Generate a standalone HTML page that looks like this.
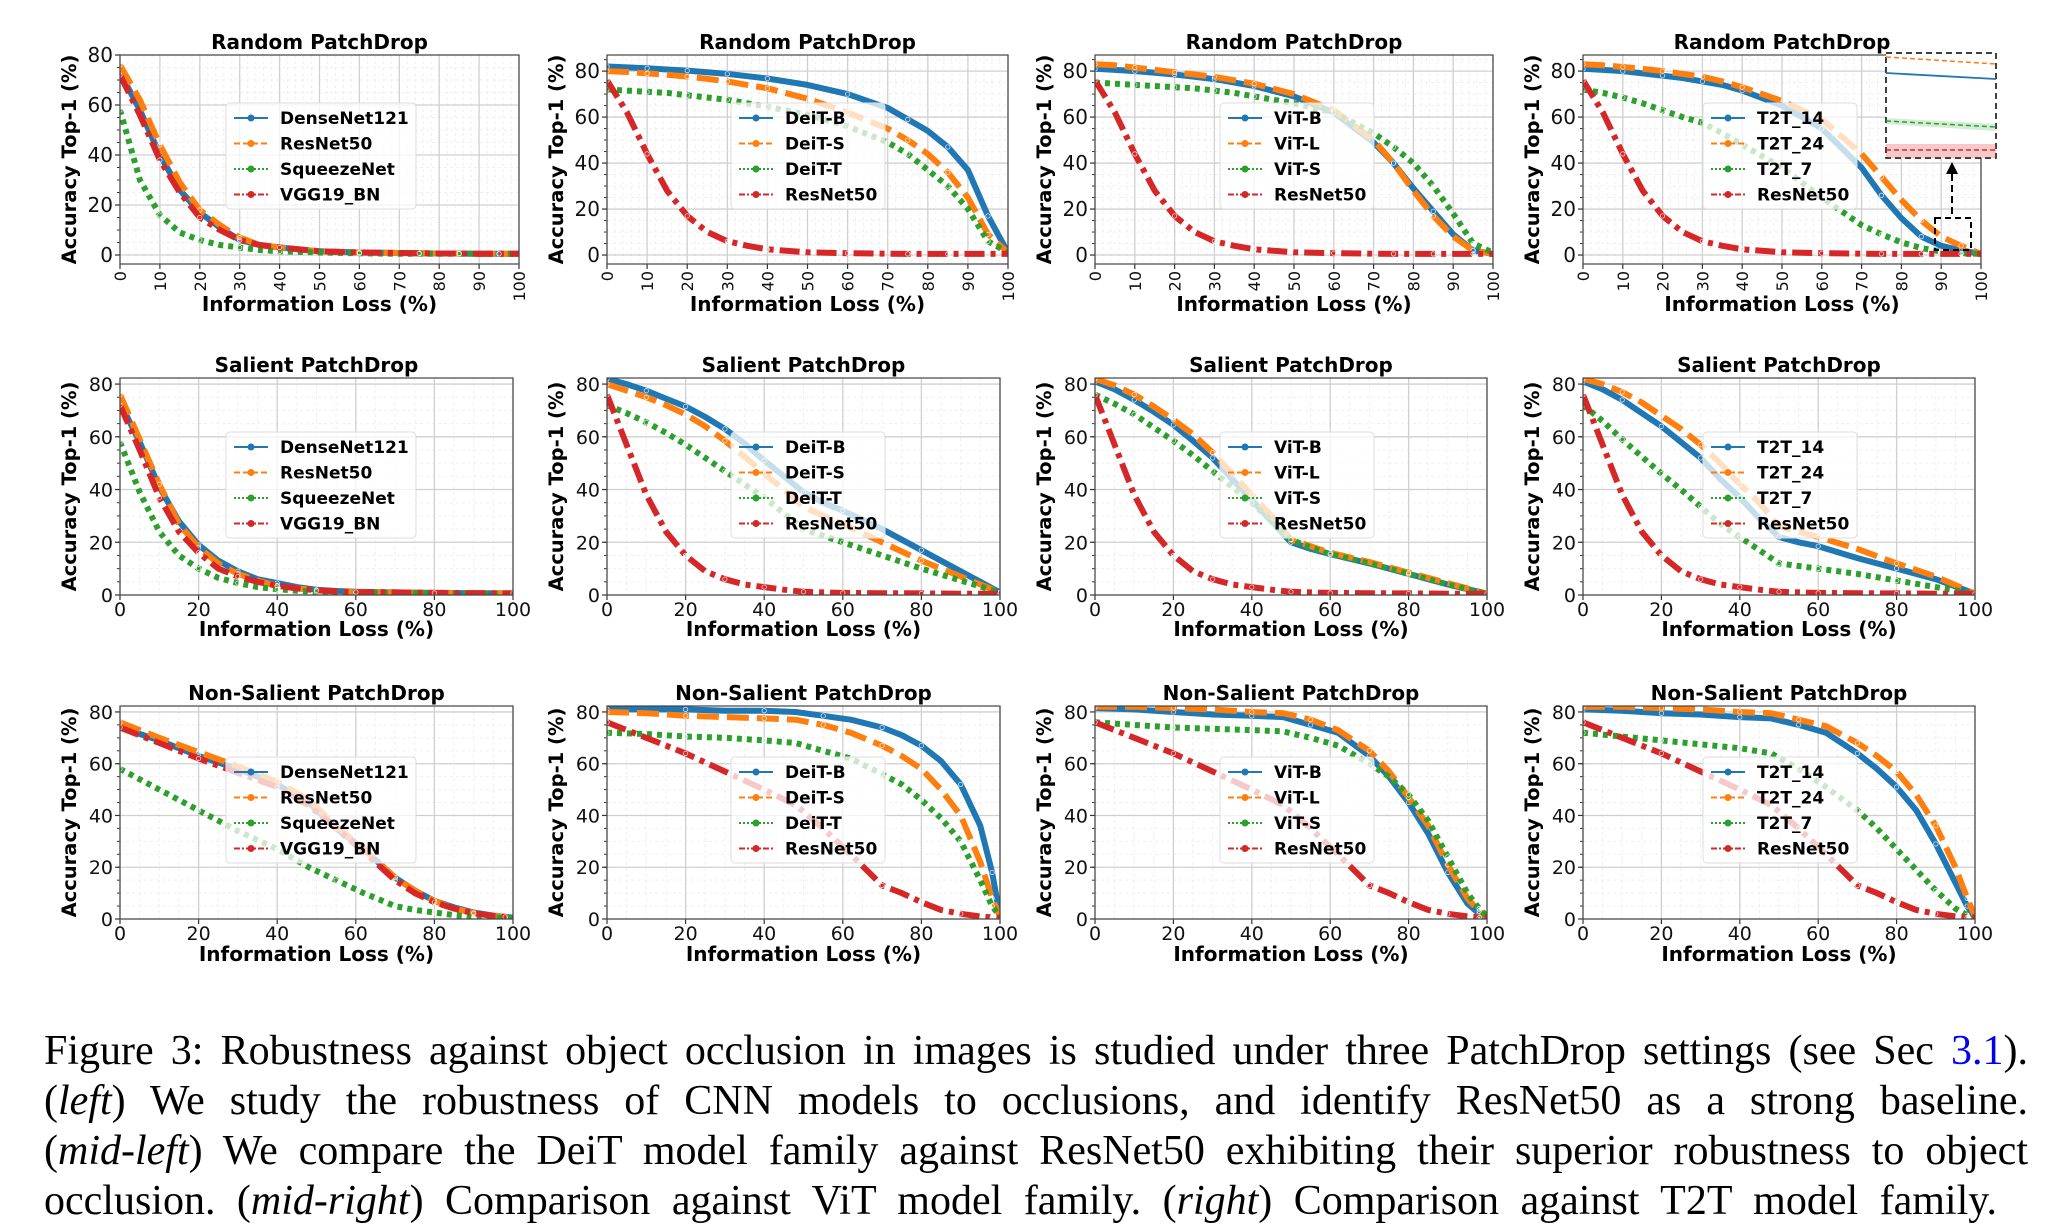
<!DOCTYPE html>
<html><head><meta charset="utf-8">
<style>
body{margin:0;background:#fff;width:2068px;height:1231px;overflow:hidden;position:relative;font-family:"DejaVu Sans","Liberation Sans",sans-serif}
svg{position:absolute;left:0;top:0}
.cap{position:absolute;left:44px;font-family:"Liberation Serif",serif;font-size:42px;color:#000;text-align:justify;text-align-last:justify;white-space:nowrap;line-height:50px}
.cap i{font-style:italic}
.lnk{color:#0000ee}
</style></head><body>
<svg id="fig" width="2068" height="1000" viewBox="0 0 2068 1000"></svg>
<div class="cap" style="top:1026px;width:1984px">Figure 3: Robustness against object occlusion in images is studied under three PatchDrop settings (see Sec <span class="lnk">3.1</span>).</div>
<div class="cap" style="top:1076px;width:1984px">(<i>left</i>) We study the robustness of CNN models to occlusions, and identify ResNet50 as a strong baseline.</div>
<div class="cap" style="top:1126px;width:1984px">(<i>mid-left</i>) We compare the DeiT model family against ResNet50 exhibiting their superior robustness to object</div>
<div class="cap" style="top:1176px;width:1953px">occlusion. (<i>mid-right</i>) Comparison against ViT model family. (<i>right</i>) Comparison against T2T model family.</div>
<script>
// ---- data ----
const randX=[0,5,10,15,20,25,30,35,40,50,60,70,75,80,85,90,95,100];
const salX=[0,5,10,15,20,25,30,35,40,45,50,55,60,70,80,90,100];
const nonX=[0,10,20,30,40,48,55,62,70,75,80,85,90,95,98,100];
const rndDense=[73,58,40,26,17,11,6,4,3,1.5,1,0.8,0.7,0.6,0.6,0.5,0.5,0.5];
const rndRes=[76,62,44,29,18,12,7,4,3,1.5,1,0.8,0.7,0.6,0.6,0.5,0.5,0.5];
const rndSqueeze=[58,30,16,9,6,4,3,2,1.5,1,0.7,0.5,0.5,0.5,0.5,0.5,0.5,0.5];
const rndVgg=[72,56,38,25,15,10,6,4,3,1.5,1,0.8,0.7,0.6,0.6,0.5,0.5,0.5];
const rndDeitB=[82,81.6,81.2,80.7,80.2,79.5,78.8,77.8,76.8,74,70,64,59,54,47,37,17,1];
const rndDeitS=[80,79.6,79,78.4,77.6,76.6,75.5,74,72.5,68,62,55,50,44,36,25,9,1];
const rndDeitT=[72,71.5,71,70.5,69.5,68.5,67.5,66,64.5,61,56,49,44,37,30,20,6,1];
const rndRes2=[76,62,44,28,17,10,6,4,2.5,1.2,0.8,0.6,0.5,0.5,0.5,0.5,0.5,0.5];
const rndVitB=[81,80.5,80,79.3,78.5,77.5,76.5,75,73.5,69,62,49,40,29,19,9,2,0.5];
const rndVitL=[83,82.5,81.5,80.5,79.5,78.5,77.5,76,74.5,70,63,50,40,28,17,8,2,0.5];
const rndVitS=[75,74.5,74,73.5,73,72.5,71.5,70.5,69,66,62,53,47,40,30,18,5,1];
const rndT14=[81,80.5,80,79,78,77,75.5,74,71.5,65,55,38,26,16,8,4,2,0.5];
const rndT24=[83,82.5,81.8,81,80,78.8,77.5,75.5,73,67,59,44,34,24,15,8,4,0.5];
const rndT7=[72,70.5,68.5,66,63,60,57.5,53,48,38,25,13,9,5.5,3,1.5,0.8,0.5];
const salDense=[73,58,41,28,19,13,9,6,4.5,3,2,1.5,1.2,1,0.8,0.7,0.6];
const salRes=[76,59,42,27,18,12,8,5.5,3.5,2.5,1.8,1.3,1.1,0.9,0.8,0.7,0.6];
const salSqueeze=[58,39,24,15,10,6.5,4.5,3,2.2,1.6,1.2,1,0.9,0.8,0.7,0.6,0.5];
const salVgg=[72,55,37,24,16,10,7,5,3.5,2.5,1.8,1.4,1.1,1,0.8,0.7,0.6];
const salDeitB=[82,80,77.5,74.5,71.5,67.5,63,57.5,51,45,39,35,32,25,17,9,1];
const salDeitS=[80,77.5,75,72,68.5,64,58.5,52.5,46,40,33.5,30,27,20,13,7,1];
const salDeitT=[72,69,65.5,61.5,57,52,47,42,37,31,25,22.5,20,15,10,5.5,1];
const salRes2=[76,57,38,24,15,9,6,4,3,2,1.2,1,0.8,0.7,0.6,0.5,0.5];
const salVitB=[81,78,74,69.5,64.5,58.5,52,44,36,28,20,17.5,15.5,12,8,4,0.5];
const salVitL=[82,79.5,76,71.5,66.5,61,54,46,38,30,21,18.5,16,12.5,8.5,4.5,0.5];
const salVitS=[76,72.5,68.5,63.5,58.5,53,47,41,35,28,21,18,15.5,12,8,4,0.5];
const salT14=[81,78,74,69,64,58,52,44,37,29,22,20,18.5,14,10,6,0.5];
const salT24=[82,80,77,73,68,63,57,50,42,35,26,24,22,17.5,12,7,0.5];
const salT7=[72,66,59,52.5,46,40,33.5,27,22,17,12,11,10,8,5.5,3,0.5];
const nonDense=[74,69,63,58,52,45,35,27,16,11,7,4.5,2.5,1.3,0.8,0.5];
const nonRes=[76,70,64.5,59,53,46,36,27,16,11,7,4,2.3,1.2,0.8,0.5];
const nonSqueeze=[58,50,42,34,27,20,15,10,5,3.5,2.5,1.5,0.8,0.5,0.4,0.3];
const nonVgg=[74,68,62,56.5,51,44,35,26,15,10,6.5,4,2.2,1.2,0.8,0.5];
const nonDeitB=[81,81,81,80.5,80.5,80,78.5,77,74,71,67,61,52,36,18,1];
const nonDeitS=[80,79.5,78.5,78,77.5,77,75,72,67,63,58,50,40,22,8,1];
const nonDeitT=[72,71.5,70.5,70,69,68,65,62,56,52,46,39,30,15,5,1];
const nonRes2=[76,70,64,57,50,44,35,25,13,10,6.5,3.5,2,1,0.6,0.5];
const nonVitB=[81.5,81,80,79,78.5,78,75,72,63,55,45,33,18,6,2,0.5];
const nonVitL=[82,82,81.5,81,80,79.5,77,73,65,57,47,36,21,8,3,0.5];
const nonVitS=[76,75,74,73.5,73,72.5,70,67,60,55,48,38,24,10,4,1];
const nonT14=[81,80.5,79.5,79,78,77.5,75,72,64,58,51,42,29,14,5,0.5];
const nonT24=[82,82,81.5,81,80,79.5,77,74.5,68,63,57,48,36,20,8,1];
const nonT7=[72,70.5,69,67.5,66,64,58,51,42,35,27,19,11,4,1.5,0.5];
const cnnNames=["DenseNet121","ResNet50","SqueezeNet","VGG19_BN"];
const deitNames=["DeiT-B","DeiT-S","DeiT-T","ResNet50"];
const vitNames=["ViT-B","ViT-L","ViT-S","ResNet50"];
const t2tNames=["T2T_14","T2T_24","T2T_7","ResNet50"];
const yTicks=[0,20,40,60,80];
const xTicksRow1=[0,10,20,30,40,50,60,70,80,90,100];
const xTicksRows23=[0,20,40,60,80,100];

// ---- rendering ----
const NS="http://www.w3.org/2000/svg";
const svg=document.getElementById('fig');
const COLORS=['#1f77b4','#ff7f0e','#2ca02c','#d62728'];
const DASH=['none','22 8','5 5','20 6 5 6'];
function mk(tag,attrs,parent){const e=document.createElementNS(NS,tag);for(const k in attrs)e.setAttribute(k,attrs[k]);(parent||svg).appendChild(e);return e;}
let clipId=0;
function panel(c){
  const g=mk('g',{});
  
  
  const sx=v=>c.x0+v/100*(c.x1-c.x0);
  const sy=v=>c.yb-(v-c.ymin)/(c.ymax-c.ymin)*(c.yb-c.yt);
  const tfs=c.rot?20:19;
  for(let v=0;v<=100;v+=c.minorX){mk('line',{x1:sx(v),x2:sx(v),y1:c.yt,y2:c.yb,stroke:'#efefef','stroke-width':1,'stroke-dasharray':'3 3'},g);}
  for(let v=0;v<=c.ymax;v+=5){mk('line',{x1:c.x0,x2:c.x1,y1:sy(v),y2:sy(v),stroke:'#efefef','stroke-width':1,'stroke-dasharray':'3 3'},g);
    mk('line',{x1:c.x0-3,x2:c.x0,y1:sy(v),y2:sy(v),stroke:'#333','stroke-width':1},g);}
  c.xticks.forEach(v=>{mk('line',{x1:sx(v),x2:sx(v),y1:c.yt,y2:c.yb,stroke:'#d0d0d0','stroke-width':1.3},g);
    mk('line',{x1:sx(v),x2:sx(v),y1:c.yb,y2:c.yb+5,stroke:'#333','stroke-width':1.2},g);
    const t=mk('text',{'font-size':c.rot?16:tfs,fill:'#111'},g);
    if(c.rot){t.setAttribute('transform',`rotate(-90 ${sx(v)} ${c.yb+7})`);t.setAttribute('x',sx(v));t.setAttribute('y',c.yb+7+6);t.setAttribute('text-anchor','end');}
    else{t.setAttribute('x',sx(v));t.setAttribute('y',c.yb+21);t.setAttribute('text-anchor','middle');}
    
    
    t.textContent=v;});
  yTicks.forEach(v=>{mk('line',{x1:c.x0,x2:c.x1,y1:sy(v),y2:sy(v),stroke:'#d0d0d0','stroke-width':1.3},g);
    mk('line',{x1:c.x0-5,x2:c.x0,y1:sy(v),y2:sy(v),stroke:'#333','stroke-width':1.2},g);
    const t=mk('text',{x:c.x0-7,y:sy(v)+7,'text-anchor':'end','font-size':tfs,fill:'#111'},g);
    
    
    t.textContent=v;});
  const cid='clip'+(clipId++);
  const cp=mk('clipPath',{id:cid},g);mk('rect',{x:c.x0,y:c.yt,width:c.x1-c.x0,height:c.yb-c.yt},cp);
  const lg=mk('g',{'clip-path':`url(#${cid})`},g);
  c.series.forEach((s,i)=>{
    const pts=s.map((v,j)=>sx(c.xs[j]).toFixed(1)+','+sy(v).toFixed(1)).join(' ');
    const p=mk('polyline',{points:pts,fill:'none',stroke:COLORS[i],'stroke-width':6,'stroke-dasharray':DASH[i],'stroke-linejoin':'round'},lg);
    
    
    s.forEach((v,j)=>{if(j%2===0)mk('circle',{cx:sx(c.xs[j]),cy:sy(v),r:2.2,fill:'none',stroke:'#fff','stroke-width':0.8,opacity:0.8},lg);});
  });
  mk('rect',{x:c.x0,y:c.yt,width:c.x1-c.x0,height:c.yb-c.yt,fill:'none',stroke:'#444','stroke-width':1.2},g);
  const tt=mk('text',{x:(c.x0+c.x1)/2,y:c.yt-6,'text-anchor':'middle','font-size':20,'font-weight':'bold',fill:'#000'},g);
  
  
  tt.textContent=c.title;
  const xl=mk('text',{x:(c.x0+c.x1)/2,y:c.xlY,'text-anchor':'middle','font-size':20,'font-weight':'bold',fill:'#000'},g);
  
  
  xl.textContent='Information Loss (%)';
  const ycy=(c.yt+c.yb)/2, ycx=c.x0-44;
  const yl=mk('text',{x:ycx,y:ycy,'text-anchor':'middle','font-size':19.5,'font-weight':'bold',fill:'#000',transform:`rotate(-90 ${ycx} ${ycy})`},g);
  
  
  yl.textContent='Accuracy Top-1 (%)';
  const L=c.legend;
  const lgG=mk('g',{},g);
  
  
  mk('rect',{x:L.x,y:L.y,width:L.w,height:106,rx:4,fill:'#fff','fill-opacity':0.75,stroke:'#ddd','stroke-width':1},lgG);
  c.names.forEach((n,i)=>{
    const yy=L.y+15+i*25.5;
    mk('line',{x1:L.x+8,x2:L.x+42,y1:yy,y2:yy,stroke:COLORS[i],'stroke-width':2,'stroke-dasharray':i===0?'none':(i===1?'6 3':(i===2?'2 2':'6 2 2 2'))},lgG);
    mk('circle',{cx:L.x+25,cy:yy,r:3.5,fill:COLORS[i]},lgG);
    const t=mk('text',{x:L.x+54,y:yy+6,'font-size':17,'font-weight':'bold',fill:'#000'},lgG);
    
    
    t.textContent=n;
  });
}
const cols=[[120,519],[607,1008],[1095,1493],[1583,1981]];
const cols2=[[120,513],[607,1000],[1095,1487],[1583,1975]];
const row1={yt:55,yb:264,xlY:311,rot:true,minorX:2,xs:randX,title:'Random PatchDrop',xticks:xTicksRow1};
const row2={yt:378,yb:595,ymin:0,ymax:82.3,xlY:636,rot:false,minorX:5,xs:salX,title:'Salient PatchDrop',xticks:xTicksRows23};
const row3={yt:706,yb:919,ymin:0,ymax:82.3,xlY:961,rot:false,minorX:5,xs:nonX,title:'Non-Salient PatchDrop',xticks:xTicksRows23};
const sets=[
 [cnnNames,[rndDense,rndRes,rndSqueeze,rndVgg],[salDense,salRes,salSqueeze,salVgg],[nonDense,nonRes,nonSqueeze,nonVgg],106,190],
 [deitNames,[rndDeitB,rndDeitS,rndDeitT,rndRes2],[salDeitB,salDeitS,salDeitT,salRes2],[nonDeitB,nonDeitS,nonDeitT,nonRes2],124,154],
 [vitNames,[rndVitB,rndVitL,rndVitS,rndRes2],[salVitB,salVitL,salVitS,salRes2],[nonVitB,nonVitL,nonVitS,nonRes2],125,154],
 [t2tNames,[rndT14,rndT24,rndT7,rndRes2],[salT14,salT24,salT7,salRes2],[nonT14,nonT24,nonT7,nonRes2],120,154]
];
sets.forEach((s,k)=>{
  const yr1=k===0?{ymin:-3.6,ymax:80}:{ymin:-3.9,ymax:87};
  panel(Object.assign({},row1,yr1,{name:'panel-random-'+k,x0:cols[k][0],x1:cols[k][1],names:s[0],series:s[1],legend:{x:cols[k][0]+s[4],y:103,w:s[5]}}));
  panel(Object.assign({},row2,{name:'panel-salient-'+k,x0:cols2[k][0],x1:cols2[k][1],names:s[0],series:s[2],legend:{x:cols2[k][0]+s[4],y:432,w:s[5]}}));
  panel(Object.assign({},row3,{name:'panel-nonsalient-'+k,x0:cols2[k][0],x1:cols2[k][1],names:s[0],series:s[3],legend:{x:cols2[k][0]+s[4],y:757,w:s[5]}}));
});
const ins=mk('g',{});


mk('rect',{x:1886,y:53,width:110,height:105,fill:'#fff',stroke:'#000','stroke-width':1.5,'stroke-dasharray':'6 4'},ins);
mk('line',{x1:1886,y1:57,x2:1996,y2:64,stroke:'#ff7f0e','stroke-width':1.5,'stroke-dasharray':'5 3'},ins);
mk('line',{x1:1886,y1:73,x2:1996,y2:79,stroke:'#1f77b4','stroke-width':1.8},ins);
mk('polygon',{points:'1886,118 1996,124 1996,131 1886,124',fill:'#2ca02c',opacity:0.2},ins);
mk('line',{x1:1886,y1:121,x2:1996,y2:127,stroke:'#2ca02c','stroke-width':1.5,'stroke-dasharray':'5 3'},ins);
mk('rect',{x:1886,y:144,width:110,height:14,fill:'#d62728',opacity:0.25},ins);
mk('line',{x1:1886,y1:150,x2:1996,y2:150,stroke:'#d62728','stroke-width':1.5,'stroke-dasharray':'5 3'},ins);
mk('rect',{x:1935,y:218,width:36,height:32,fill:'none',stroke:'#000','stroke-width':2,'stroke-dasharray':'6 4'},ins);
mk('line',{x1:1952,y1:214,x2:1952,y2:172,stroke:'#000','stroke-width':2,'stroke-dasharray':'7 4'},ins);
mk('polygon',{points:'1946,174 1958,174 1952,162',fill:'#000'},ins);
</script>
</body></html>
